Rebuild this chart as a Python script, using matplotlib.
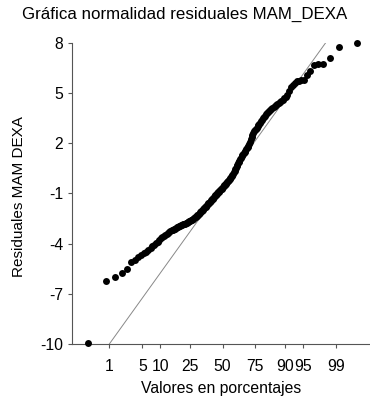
import matplotlib
matplotlib.use("Agg")
import matplotlib.pyplot as plt
from statistics import NormalDist

plt.rcParams['font.family'] = ['Liberation Sans', 'DejaVu Sans']

# residuales ordenados MAM_DEXA
residuales = [
    -9.95, -6.26, -5.99, -5.77, -5.53, -5.10, -4.98, -4.82, -4.70, -4.59,
    -4.48, -4.37, -4.26, -4.16, -4.07, -3.97, -3.88, -3.78, -3.69, -3.62,
    -3.56, -3.49, -3.43, -3.36, -3.30, -3.24, -3.21, -3.17, -3.13, -3.10,
    -3.06, -3.03, -2.99, -2.95, -2.92, -2.90, -2.87, -2.85, -2.82, -2.80,
    -2.78, -2.75, -2.73, -2.70, -2.67, -2.64, -2.61, -2.57, -2.54, -2.50,
    -2.46, -2.43, -2.39, -2.36, -2.32, -2.27, -2.22, -2.18, -2.13, -2.08,
    -2.04, -1.99, -1.94, -1.89, -1.84, -1.79, -1.74, -1.70, -1.65, -1.60,
    -1.55, -1.50, -1.45, -1.40, -1.35, -1.31, -1.26, -1.21, -1.17, -1.12,
    -1.07, -1.03, -0.98, -0.94, -0.89, -0.84, -0.80, -0.75, -0.71, -0.66,
    -0.61, -0.57, -0.52, -0.47, -0.42, -0.37, -0.33, -0.28, -0.23, -0.18,
    -0.13, -0.08, -0.04, 0.01, 0.10, 0.18, 0.27, 0.36, 0.44, 0.53,
    0.62, 0.70, 0.79, 0.88, 0.96, 1.05, 1.14, 1.23, 1.29, 1.36,
    1.43, 1.49, 1.56, 1.63, 1.69, 1.76, 1.84, 1.97, 2.10, 2.24,
    2.37, 2.50, 2.62, 2.70, 2.77, 2.85, 2.92, 3.00, 3.07, 3.14,
    3.22, 3.30, 3.39, 3.48, 3.56, 3.65, 3.73, 3.80, 3.86, 3.93,
    3.99, 4.06, 4.12, 4.19, 4.25, 4.31, 4.35, 4.39, 4.44, 4.51,
    4.61, 4.70, 4.79, 4.91, 5.12, 5.34, 5.50, 5.60, 5.69, 5.72,
    5.75, 5.78, 6.05, 6.30, 6.67, 6.72, 6.76, 7.07, 7.76, 7.96,
]

pct_ticks = [1, 5, 10, 25, 50, 75, 90, 95, 99]
y_ticks = [8, 5, 2, -1, -4, -7, -10]

# recta de referencia normal
recta_media = -0.58
recta_pendiente = 4.05

nd = NormalDist()
n = len(residuales)
z = [nd.inv_cdf((i + 0.5) / n) for i in range(n)]

fig = plt.figure(figsize=(3.7, 4.0), dpi=100)
ax = fig.add_axes([0.195, 0.14, 0.805, 0.753])

ax.axline((0, recta_media), slope=recta_pendiente, color='#888888', lw=0.7, zorder=2)
ax.plot(z, sorted(residuales), 'o', color='black', ms=5.0, mew=0, clip_on=False, zorder=3)

ax.set_xlim(-3.09, 3.03)
ax.set_ylim(-10, 8)
ax.set_xticks([nd.inv_cdf(p / 100) for p in pct_ticks])
ax.set_xticklabels([str(p) for p in pct_ticks])
ax.set_yticks(y_ticks)
ax.set_yticklabels([str(v) for v in y_ticks])

for s in ['top', 'right']:
    ax.spines[s].set_visible(False)
for s in ['left', 'bottom']:
    ax.spines[s].set_color('#555555')
    ax.spines[s].set_linewidth(0.8)

ax.tick_params(axis='both', direction='out', length=3, width=0.8, color='#555555', labelsize=11.3)
ax.tick_params(axis='x', pad=7.5)
ax.tick_params(axis='y', pad=3.5)

ax.set_ylabel('Residuales MAM DEXA', fontsize=11)
ax.yaxis.set_label_coords(-0.155, 0.49)
ax.set_xlabel('Valores en porcentajes', fontsize=11.3, labelpad=5.5)

fig.text(0.5, 0.965, 'Gráfica normalidad residuales MAM_DEXA', ha='center', va='center', fontsize=12.2)

fig.savefig('out.png', dpi=100)
